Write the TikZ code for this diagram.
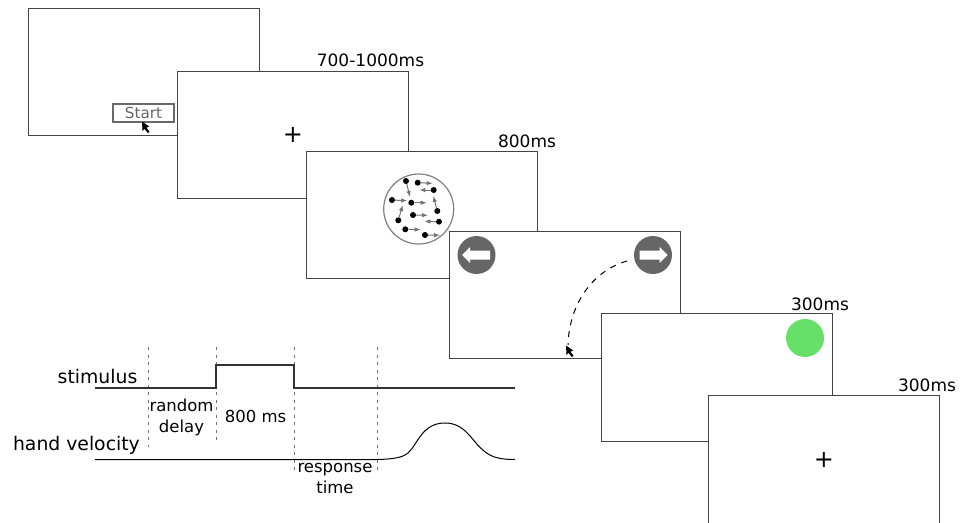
\documentclass[tikz,border=0pt]{standalone}
\usepackage{xcolor}
\usepackage{fontspec}
\setmainfont{DejaVu Sans}
\usetikzlibrary{positioning, arrows.meta}
\definecolor{framegray}{HTML}{444444}
\definecolor{discgray}{HTML}{666666}
\definecolor{targetgreen}{HTML}{66E066}
\newcommand{\fs}[1]{\fontsize{#1}{21}\selectfont}
% mouse pointer, tip at (0,0)
\newcommand{\mousecursor}[2]{
	\fill[black, shift={(#1,#2)}] (0,0) -- (0.5,9.5) -- (2.6,7.3) -- (5.8,11.5) -- (7.6,10.2) -- (4.4,6.2) -- (7.2,5) -- cycle;
}
\begin{document}
\begin{tikzpicture}[
		x=1pt, y=-1pt,
		screenbox/.style={
			rectangle,
			draw=framegray,
			fill=white,
			line width=1pt,
			anchor=north west,
			inner sep=0,
			outer sep=0,
			minimum width=231pt,
			minimum height=127pt},
		timelabel/.style={font=\fs{17}, inner sep=0},
		tracelabel/.style={font=\fs{18.8}, inner sep=0},
		durlabel/.style={font=\fs{16.5}, align=center, inner sep=0},
		fixation/.style={font=\fs{24}, inner sep=0},
		trace/.style={draw=black!80, line width=1.1pt},
		marker/.style={draw=black!55, line width=0.8pt, dash pattern=on 3pt off 4.5pt},
		disc/.style={circle, fill=discgray, minimum size=38pt, inner sep=0},
		dot/.style={circle, fill=black, minimum size=6pt, inner sep=0}
		]
		\useasboundingbox (0,0) rectangle (968,522);
		
		% draw screens, back to front
		\node[screenbox] (s1) at (28,8) {};
		\node[draw=framegray!80, line width=2pt, text=black!60, font=\fs{15.2}, minimum width=61pt, minimum height=18.5pt, inner sep=0] (start) at (143.5,113) {Start};
		\mousecursor{142}{121.5}
		
		\node[screenbox] (s2) at (177,71) {};
		\node[fixation] (fix1) at (293,135) {+};
		
		\node[screenbox] (s3) at (306,151) {};
		\node[circle, draw=black!50, line width=1.2pt, fill=white, minimum size=70pt, inner sep=0] (aperture) at (418.7,209) {};
		
		% draw moving dots
		\foreach \i/\xa/\ya/\xb/\yb in {1/406/181/410/197, 2/417.7/182.7/432.7/183.3, 3/433.7/190/419.3/190, 4/392/200/407.3/200.7, 5/411.3/202.7/426.7/202.7, 6/437.3/211/433.3/196, 7/413/215/428/215.3, 8/398.3/220.3/402.7/205, 9/439/221.7/424.3/221.3, 10/405.3/229.3/420.7/229.7, 11/425/235/440/235.3} {
			\node[dot] (dot\i) at (\xa,\ya) {};
			\coordinate (tip\i) at (\xb,\yb);
			\draw[-{Latex[length=6pt,width=4.5pt]}, draw=black!55, line width=1pt] (dot\i) -- (tip\i);
		}
		
		\node[screenbox] (s4) at (449,231) {};
		\node[disc] (left) at (476.5,255) {};
		\node[disc] (right) at (653,255) {};
		\fill[white, shift={(left.center)}] (-14.5,0) -- (-6.5,-8) -- (-6.5,-4.5) -- (13.5,-4.5) -- (13.5,4.5) -- (-6.5,4.5) -- (-6.5,8) -- cycle;
		\fill[white, shift={(right.center)}] (14.5,0) -- (6.5,-8) -- (6.5,-4.5) -- (-13.5,-4.5) -- (-13.5,4.5) -- (6.5,4.5) -- (6.5,8) -- cycle;
		
		\coordinate (reachstart) at (627,261);
		\coordinate (reachend) at (568,345);
		\draw[black, line width=1pt, dash pattern=on 6pt off 6pt] (reachstart) .. controls (592,271) and (569,305) .. (reachend);
		\mousecursor{566}{345.5}
		
		\node[screenbox, minimum height=128pt] (s5) at (601,313) {};
		\node[circle, fill=targetgreen, minimum size=38pt, inner sep=0] (target) at (805,338) {};
		
		\node[screenbox, minimum height=135pt] (s6) at (708,395) {};
		\node[fixation] (fix2) at (824,460) {+};
		
		% draw durations
		\node[timelabel] (t1) at (370.5,60) {700-1000ms};
		\node[timelabel] (t2) at (527,141) {800ms};
		\node[timelabel] (t3) at (820,304) {300ms};
		\node[timelabel] (t4) at (927,385) {300ms};
		
		% draw timing traces
		\node[tracelabel, anchor=east] (stim) at (137.5,376) {stimulus};
		\node[tracelabel, anchor=east] (hand) at (140,445) {hand velocity};
		
		\foreach \step/\x/\yend in {1/148/447, 2/216/444, 3/294/470, 4/377/472} {
			\coordinate (mtop\step) at (\x,347);
			\coordinate (mbot\step) at (\x,\yend);
			\draw[marker] (mtop\step) -- (mbot\step);
		}
		
		\coordinate (st0) at (95,388);
		\coordinate (st1) at (216,388);
		\coordinate (st2) at (216,365);
		\coordinate (st3) at (294,365);
		\coordinate (st4) at (294,388);
		\coordinate (st5) at (515,388);
		\draw[trace] (st0) -- (st1) -- (st2) -- (st3) -- (st4) -- (st5);
		
		\coordinate (hv0) at (95,459.5);
		\coordinate (hv1) at (378,459.5);
		\coordinate (hv2) at (445,423);
		\coordinate (hv3) at (515,459.5);
		\draw[draw=black, line width=1pt] (hv0) -- (hv1) .. controls (392,459) and (402,458) .. (408,453) .. controls (418,444) and (422,423) .. (hv2) .. controls (466,423) and (472,442) .. (484,451) .. controls (492,458) and (502,459.5) .. (hv3);
		
		\node[durlabel] (delay) at (181.5,417.5) {random\\delay};
		\node[durlabel] (stimdur) at (255.5,416) {800 ms};
		\node[durlabel] (rt) at (335,478) {response\\time};
		\end{tikzpicture}
\end{document}
